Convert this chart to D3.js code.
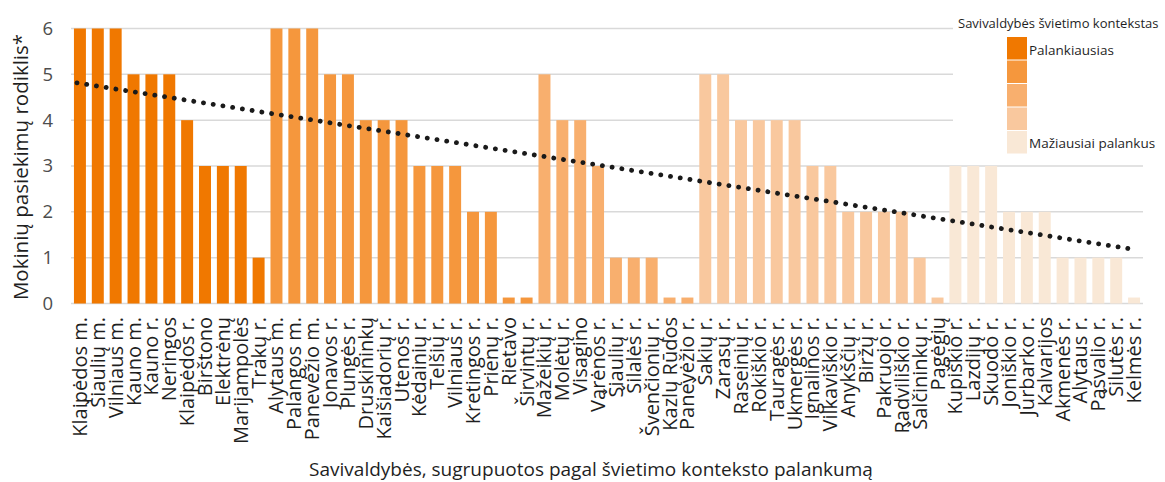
<!DOCTYPE html>
<html>
<head>
<meta charset="utf-8">
<script src="https://cdn.jsdelivr.net/npm/d3@7"></script>
<style>
  body { margin: 0; background: #fff; }
  text { font-family: "Open Sans", sans-serif; }
</style>
</head>
<body>
<div id="chart-area"></div>
<script>
// savivaldybės, sugrupuotos pagal švietimo konteksto palankumą (5 grupės)
const group1 = ["Klaipėdos m.", "Šiaulių m.", "Vilniaus m.", "Kauno m.", "Kauno r.", "Neringos",
  "Klaipėdos r.", "Birštono", "Elektrėnų", "Marijampolės", "Trakų r."]
const values1 = [6, 6, 6, 5, 5, 5, 4, 3, 3, 3, 1]

const group2 = ["Alytaus m.", "Palangos m.", "Panevėžio m.", "Jonavos r.", "Plungės r.", "Druskininkų",
  "Kaišiadorių r.", "Utenos r.", "Kėdainių r.", "Telšių r.", "Vilniaus r.", "Kretingos r.",
  "Prienų r.", "Rietavo", "Širvintų r."]
const values2 = [6, 6, 6, 5, 5, 4, 4, 4, 3, 3, 3, 2, 2, 0.13, 0.13]

const group3 = ["Mažeikių r.", "Molėtų r.", "Visagino", "Varėnos r.", "Šiaulių r.", "Šilalės r.",
  "Švenčionių r.", "Kazlų Rūdos", "Panevėžio r."]
const values3 = [5, 4, 4, 3, 1, 1, 1, 0.13, 0.13]

const group4 = ["Šakių r.", "Zarasų r.", "Raseinių r.", "Rokiškio r.", "Tauragės r.", "Ukmergės r.",
  "Ignalinos r.", "Vilkaviškio r.", "Anykščių r.", "Biržų r.", "Pakruojo r.", "Radviliškio r.",
  "Šalčininkų r.", "Pagėgių"]
const values4 = [5, 5, 4, 4, 4, 4, 3, 3, 2, 2, 2, 2, 1, 0.13]

const group5 = ["Kupiškio r.", "Lazdijų r.", "Skuodo r.", "Joniškio r.", "Jurbarko r.", "Kalvarijos",
  "Akmenės r.", "Alytaus r.", "Pasvalio r.", "Šilutės r.", "Kelmės r."]
const values5 = [3, 3, 3, 2, 2, 2, 1, 1, 1, 1, 0.13]

const yTicks = [0, 1, 2, 3, 4, 5, 6]
const legendLabels = ["Palankiausias", "", "", "", "Mažiausiai palankus"]

const COLORS = ["#F07800", "#F5973D", "#F8AF6E", "#F9C89E", "#F9E8D6"]

const groups = [group1, group2, group3, group4, group5]
const groupValues = [values1, values2, values3, values4, values5]
const data = []
groups.forEach((names, gi) => {
  names.forEach((name, i) => data.push({ name: name, value: groupValues[gi][i], group: gi }))
})

const WIDTH = 1165
const HEIGHT = 482
const PLOT = { LEFT: 71, RIGHT: 1143, TOP: 28.5, BOTTOM: 303.5 }

const svg = d3.select("#chart-area").append("svg")
  .attr("width", WIDTH)
  .attr("height", HEIGHT)

const key = d => d.name + "|" + d.group

const x = d3.scaleBand()
  .domain(data.map(key))
  .range([PLOT.LEFT, PLOT.RIGHT])
  .paddingInner(0.33)
  .paddingOuter(0.165)

const y = d3.scaleLinear()
  .domain([0, 6])
  .range([PLOT.BOTTOM, PLOT.TOP])

// gridlines
svg.append("g")
  .selectAll("line")
  .data(yTicks)
  .enter().append("line")
    .attr("x1", PLOT.LEFT)
    .attr("x2", PLOT.RIGHT)
    .attr("y1", d => y(d))
    .attr("y2", d => y(d))
    .attr("stroke", "#d9d9d9")
    .attr("stroke-width", 1.5)

// y tick labels
svg.append("g")
  .selectAll("text")
  .data(yTicks)
  .enter().append("text")
    .attr("x", 53)
    .attr("y", d => y(d))
    .attr("dy", "0.35em")
    .attr("text-anchor", "end")
    .attr("font-size", "18.5px")
    .attr("fill", "#4d4d4d")
    .text(d => d)

// bars
svg.append("g")
  .selectAll("rect")
  .data(data)
  .enter().append("rect")
    .attr("x", d => x(key(d)))
    .attr("y", d => y(d.value))
    .attr("width", x.bandwidth())
    .attr("height", d => y(0) - y(d.value))
    .attr("fill", d => COLORS[d.group])

// x labels
svg.append("g")
  .selectAll("text")
  .data(data)
  .enter().append("text")
    .attr("transform", d => `translate(${x(key(d)) + x.bandwidth() / 2}, 317) rotate(-90)`)
    .attr("dy", "0.35em")
    .attr("text-anchor", "end")
    .attr("font-size", "20px")
    .attr("fill", "#1f1f1f")
    .text(d => d.name)

// linear trend line (least squares over category index)
const n = data.length
const xs = d3.range(1, n + 1)
const mx = d3.mean(xs)
const my = d3.mean(data, d => d.value)
const slope = d3.sum(data, (d, i) => (xs[i] - mx) * (d.value - my)) / d3.sum(xs, v => (v - mx) * (v - mx))
const intercept = my - slope * mx
const first = data[0], last = data[n - 1]
svg.append("line")
  .attr("x1", x(key(first)) + x.bandwidth() / 2 - 3)
  .attr("y1", y(intercept + slope * 1))
  .attr("x2", x(key(last)) + x.bandwidth() / 2)
  .attr("y2", y(intercept + slope * n))
  .attr("stroke", "#1a1a1a")
  .attr("stroke-width", 4.8)
  .attr("stroke-linecap", "round")
  .attr("stroke-dasharray", "0.1 9.75")

// legend
const legend = svg.append("g")
legend.append("rect")
  .attr("x", 953)
  .attr("y", 0)
  .attr("width", 212)
  .attr("height", 160)
  .attr("fill", "#fff")
legend.append("text")
  .attr("x", 958)
  .attr("y", 28)
  .attr("font-size", "13px")
  .attr("fill", "#1f1f1f")
  .text("Savivaldybės švietimo kontekstas")
legend.selectAll(".swatch")
  .data(COLORS)
  .enter().append("rect")
    .attr("class", "swatch")
    .attr("x", 1007)
    .attr("y", (d, i) => 37 + i * 23.5)
    .attr("width", 20)
    .attr("height", 22.5)
    .attr("fill", d => d)
legend.selectAll(".legend-label")
  .data(legendLabels)
  .enter().append("text")
    .attr("class", "legend-label")
    .attr("x", 1029)
    .attr("y", (d, i) => 55 + i * 23.3)
    .attr("font-size", "13.5px")
    .attr("fill", "#1f1f1f")
    .text(d => d)

// axis titles
svg.append("text")
  .attr("x", -167)
  .attr("y", 28)
  .attr("transform", "rotate(-90)")
  .attr("text-anchor", "middle")
  .attr("font-size", "20.5px")
  .attr("fill", "#1f1f1f")
  .text("Mokinių pasiekimų rodiklis*")

svg.append("text")
  .attr("x", 591)
  .attr("y", 476)
  .attr("text-anchor", "middle")
  .attr("font-size", "19px")
  .attr("fill", "#1f1f1f")
  .text("Savivaldybės, sugrupuotos pagal švietimo konteksto palankumą")
</script>
</body>
</html>
